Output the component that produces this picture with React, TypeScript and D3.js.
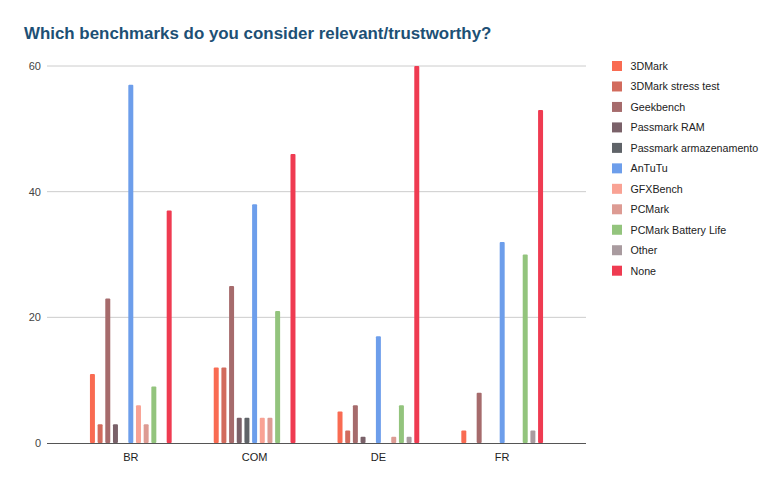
import React, { useEffect, useRef } from 'react';
import * as d3 from 'd3';

const categories = ['BR', 'COM', 'DE', 'FR'];
const seriesNames = [
  '3DMark', '3DMark stress test', 'Geekbench', 'Passmark RAM', 'Passmark armazenamento',
  'AnTuTu', 'GFXBench', 'PCMark', 'PCMark Battery Life', 'Other', 'None',
];
const seriesColors = [
  '#f96b52', '#d26b5d', '#a66b6c', '#7a6169', '#5f6368',
  '#6d9eeb', '#f9a294', '#dd9b93', '#93c47d', '#a99b9f', '#ef3b51',
];
// values per series, in category order BR, COM, DE, FR
const v3DMark = [11, 12, 5, 2];
const vStress = [3, 12, 2, 0];
const vGeekbench = [23, 25, 6, 8];
const vPassRam = [3, 4, 1, 0];
const vPassArm = [0, 4, 0, 0];
const vAnTuTu = [57, 38, 17, 32];
const vGfx = [6, 4, 0, 0];
const vPCMark = [3, 4, 1, 0];
const vBattery = [9, 21, 6, 30];
const vOther = [0, 0, 1, 2];
const vNone = [37, 46, 60, 53];
const seriesValues = [v3DMark, vStress, vGeekbench, vPassRam, vPassArm, vAnTuTu, vGfx, vPCMark, vBattery, vOther, vNone];
const yTicks = [0, 20, 40, 60];

const App = () => {
  const svgRef = useRef<SVGSVGElement>(null);

  useEffect(() => {
    const svg = d3.select(svgRef.current);
    svg.selectAll('*').remove();

    const left = 47, right = 586, top = 66, bottom = 443;
    const font = 'Arial, "Liberation Sans", sans-serif';

    svg.append('rect').attr('width', 782).attr('height', 485).attr('fill', '#fff');

    svg.append('text')
      .attr('x', 24).attr('y', 39)
      .attr('fill', '#1d5075')
      .style('font-family', font)
      .style('font-size', '16.9px')
      .style('font-weight', 'bold')
      .text('Which benchmarks do you consider relevant/trustworthy?');

    const y = d3.scaleLinear().domain([0, 60]).range([bottom, top]);
    const x = d3.scaleBand().domain(categories).range([left, right]).paddingInner(0).paddingOuter(0.177);
    const inner = d3.scaleBand().domain(seriesNames)
      .range([x.bandwidth() * 0.159, x.bandwidth() * 0.841])
      .paddingInner(0.35).paddingOuter(0.175);

    // gridlines
    svg.append('g').selectAll('line')
      .data(yTicks.filter(t => t > 0))
      .enter().append('line')
      .attr('x1', left).attr('x2', right)
      .attr('y1', d => y(d)).attr('y2', d => y(d))
      .attr('stroke', '#cccccc').attr('stroke-width', 1);

    svg.append('g').selectAll('text')
      .data(yTicks)
      .enter().append('text')
      .attr('x', 41).attr('y', d => y(d) + 4)
      .attr('text-anchor', 'end')
      .attr('fill', '#444')
      .style('font-family', font).style('font-size', '11px')
      .text(d => d);

    // bars
    const groups = svg.append('g').selectAll('g')
      .data(categories)
      .enter().append('g')
      .attr('transform', d => `translate(${x(d)},0)`);

    groups.selectAll('rect')
      .data((c, ci) => seriesNames.map((s, si) => ({ s, si, v: seriesValues[si][ci] })).filter(d => d.v > 0))
      .enter().append('rect')
      .attr('x', d => inner(d.s)!)
      .attr('y', d => y(d.v))
      .attr('width', inner.bandwidth())
      .attr('height', d => bottom - y(d.v))
      .attr('rx', 1)
      .attr('fill', d => seriesColors[d.si]);

    // baseline
    svg.append('line')
      .attr('x1', left).attr('x2', right)
      .attr('y1', bottom + 0.5).attr('y2', bottom + 0.5)
      .attr('stroke', '#555').attr('stroke-width', 1.2);

    svg.append('g').selectAll('text')
      .data(categories)
      .enter().append('text')
      .attr('x', d => x(d)! + x.bandwidth() / 2)
      .attr('y', 461)
      .attr('text-anchor', 'middle')
      .attr('fill', '#222')
      .style('font-family', font).style('font-size', '11px')
      .text(d => d);

    // legend
    const legend = svg.append('g').selectAll('g')
      .data(seriesNames)
      .enter().append('g')
      .attr('transform', (d, i) => `translate(612,${66 + i * 20.47})`);
    legend.append('rect')
      .attr('x', 0).attr('y', -5).attr('width', 10).attr('height', 10)
      .attr('fill', (d, i) => seriesColors[i]);
    legend.append('text')
      .attr('x', 18.5).attr('y', 4)
      .attr('fill', '#222')
      .style('font-family', font).style('font-size', '10.7px')
      .text(d => d);
  }, []);

  return <svg ref={svgRef} width={782} height={485} style={{ position: 'absolute', left: 0, top: 0 }} />;
};

export default App;
